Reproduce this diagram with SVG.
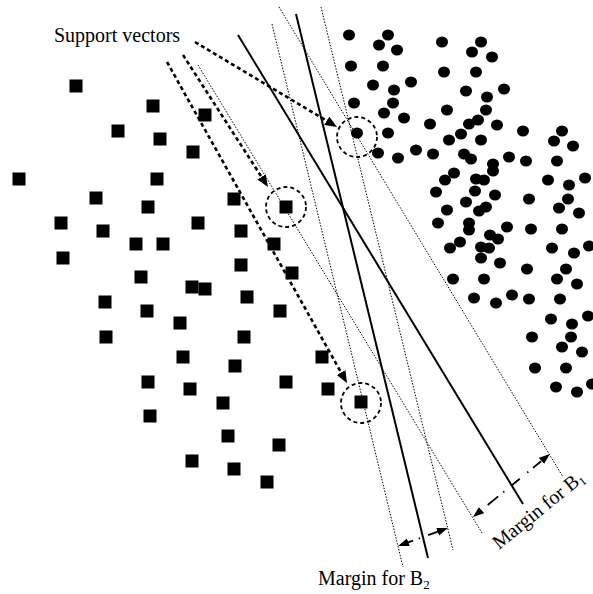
<svg xmlns="http://www.w3.org/2000/svg" xmlns:xlink="http://www.w3.org/1999/xlink" width="593" height="594" viewBox="0 0 593 594">
  <style>
    .sq { fill: #000; }
    .dt { fill: #000; }
    .plane { stroke: #000; stroke-width: 2; fill: none; }
    .margin { stroke: #000; stroke-width: 1; stroke-dasharray: 1.5 1.5; fill: none; }
    .sv-ring { stroke: #000; stroke-width: 1.8; stroke-dasharray: 4 3; fill: none; }
    .sv-arrow { stroke: #000; stroke-width: 2.6; stroke-dasharray: 4 3; fill: none; }
    .gap-arrow { stroke: #000; stroke-width: 1.8; fill: none; }
    .label { font-family: "Liberation Serif", "Times New Roman", serif; font-size: 20px; fill: #000; }
  </style>
  <defs>
    <rect id="sq" class="sq" x="-6.5" y="-6.5" width="13" height="13"/>
    <ellipse id="dt" class="dt" rx="6" ry="5.5"/>
    <marker id="head" markerUnits="userSpaceOnUse" markerWidth="13" markerHeight="11" refX="0" refY="5" orient="auto">
      <path d="M0,0 L12,5 L0,10 z" fill="#000"/>
    </marker>
    <marker id="tip" markerUnits="userSpaceOnUse" markerWidth="12" markerHeight="9" refX="11" refY="4" orient="auto-start-reverse">
      <path d="M0,0 L11,4 L0,8 z" fill="#000"/>
    </marker>
  </defs>

  <rect width="593" height="594" fill="#fff"/>

  <!-- class of squares -->
  <g id="squares">
    <use href="#sq" x="76" y="86"/>
    <use href="#sq" x="153" y="106"/>
    <use href="#sq" x="205" y="115"/>
    <use href="#sq" x="118" y="131"/>
    <use href="#sq" x="160" y="139"/>
    <use href="#sq" x="193" y="152"/>
    <use href="#sq" x="19" y="179"/>
    <use href="#sq" x="157" y="179"/>
    <use href="#sq" x="96" y="198"/>
    <use href="#sq" x="234" y="199"/>
    <use href="#sq" x="148" y="207"/>
    <use href="#sq" x="286" y="207"/>
    <use href="#sq" x="61" y="223"/>
    <use href="#sq" x="198" y="223"/>
    <use href="#sq" x="103" y="231"/>
    <use href="#sq" x="241" y="231"/>
    <use href="#sq" x="136" y="244"/>
    <use href="#sq" x="163" y="244"/>
    <use href="#sq" x="274" y="244"/>
    <use href="#sq" x="63" y="258"/>
    <use href="#sq" x="241" y="265"/>
    <use href="#sq" x="292" y="273"/>
    <use href="#sq" x="141" y="277"/>
    <use href="#sq" x="192" y="287"/>
    <use href="#sq" x="205" y="289"/>
    <use href="#sq" x="247" y="297"/>
    <use href="#sq" x="105" y="302"/>
    <use href="#sq" x="147" y="311"/>
    <use href="#sq" x="280" y="311"/>
    <use href="#sq" x="180" y="323"/>
    <use href="#sq" x="106" y="337"/>
    <use href="#sq" x="244" y="337"/>
    <use href="#sq" x="183" y="357"/>
    <use href="#sq" x="322" y="357"/>
    <use href="#sq" x="235" y="366"/>
    <use href="#sq" x="148" y="382"/>
    <use href="#sq" x="286" y="382"/>
    <use href="#sq" x="190" y="389"/>
    <use href="#sq" x="328" y="389"/>
    <use href="#sq" x="361" y="402"/>
    <use href="#sq" x="223" y="403"/>
    <use href="#sq" x="150" y="416"/>
    <use href="#sq" x="228" y="436"/>
    <use href="#sq" x="279" y="445"/>
    <use href="#sq" x="192" y="461"/>
    <use href="#sq" x="234" y="469"/>
    <use href="#sq" x="267" y="482"/>
  </g>

  <!-- class of dots -->
  <g id="dots">
    <use href="#dt" x="349" y="35"/>
    <use href="#dt" x="388" y="35"/>
    <use href="#dt" x="379" y="45"/>
    <use href="#dt" x="397" y="50"/>
    <use href="#dt" x="351" y="66"/>
    <use href="#dt" x="383" y="66"/>
    <use href="#dt" x="373" y="85"/>
    <use href="#dt" x="394" y="90"/>
    <use href="#dt" x="393" y="103"/>
    <use href="#dt" x="354" y="103"/>
    <use href="#dt" x="384" y="113"/>
    <use href="#dt" x="357" y="133"/>
    <use href="#dt" x="388" y="133"/>
    <use href="#dt" x="378" y="153"/>
    <use href="#dt" x="398" y="158"/>
    <use href="#dt" x="442" y="42"/>
    <use href="#dt" x="481" y="42"/>
    <use href="#dt" x="472" y="52"/>
    <use href="#dt" x="492" y="57"/>
    <use href="#dt" x="444" y="72"/>
    <use href="#dt" x="476" y="72"/>
    <use href="#dt" x="411" y="82"/>
    <use href="#dt" x="466" y="91"/>
    <use href="#dt" x="504" y="89"/>
    <use href="#dt" x="487" y="97"/>
    <use href="#dt" x="447" y="110"/>
    <use href="#dt" x="486" y="110"/>
    <use href="#dt" x="404" y="118"/>
    <use href="#dt" x="478" y="120"/>
    <use href="#dt" x="469" y="124"/>
    <use href="#dt" x="430" y="124"/>
    <use href="#dt" x="497" y="125"/>
    <use href="#dt" x="523" y="131"/>
    <use href="#dt" x="562" y="131"/>
    <use href="#dt" x="461" y="134"/>
    <use href="#dt" x="449" y="140"/>
    <use href="#dt" x="481" y="140"/>
    <use href="#dt" x="554" y="141"/>
    <use href="#dt" x="573" y="146"/>
    <use href="#dt" x="416" y="150"/>
    <use href="#dt" x="433" y="154"/>
    <use href="#dt" x="464" y="154"/>
    <use href="#dt" x="471" y="159"/>
    <use href="#dt" x="509" y="157"/>
    <use href="#dt" x="526" y="161"/>
    <use href="#dt" x="557" y="161"/>
    <use href="#dt" x="493" y="164"/>
    <use href="#dt" x="493" y="171"/>
    <use href="#dt" x="454" y="173"/>
    <use href="#dt" x="445" y="180"/>
    <use href="#dt" x="476" y="179"/>
    <use href="#dt" x="484" y="180"/>
    <use href="#dt" x="548" y="180"/>
    <use href="#dt" x="569" y="185"/>
    <use href="#dt" x="585" y="178"/>
    <use href="#dt" x="436" y="192"/>
    <use href="#dt" x="475" y="191"/>
    <use href="#dt" x="495" y="195"/>
    <use href="#dt" x="529" y="199"/>
    <use href="#dt" x="568" y="199"/>
    <use href="#dt" x="466" y="202"/>
    <use href="#dt" x="447" y="210"/>
    <use href="#dt" x="486" y="207"/>
    <use href="#dt" x="479" y="211"/>
    <use href="#dt" x="559" y="208"/>
    <use href="#dt" x="579" y="213"/>
    <use href="#dt" x="438" y="223"/>
    <use href="#dt" x="469" y="223"/>
    <use href="#dt" x="469" y="230"/>
    <use href="#dt" x="507" y="227"/>
    <use href="#dt" x="531" y="229"/>
    <use href="#dt" x="562" y="229"/>
    <use href="#dt" x="490" y="235"/>
    <use href="#dt" x="498" y="239"/>
    <use href="#dt" x="460" y="242"/>
    <use href="#dt" x="450" y="248"/>
    <use href="#dt" x="481" y="247"/>
    <use href="#dt" x="489" y="248"/>
    <use href="#dt" x="552" y="248"/>
    <use href="#dt" x="574" y="253"/>
    <use href="#dt" x="589" y="246"/>
    <use href="#dt" x="481" y="258"/>
    <use href="#dt" x="500" y="263"/>
    <use href="#dt" x="527" y="269"/>
    <use href="#dt" x="566" y="269"/>
    <use href="#dt" x="557" y="279"/>
    <use href="#dt" x="453" y="279"/>
    <use href="#dt" x="484" y="279"/>
    <use href="#dt" x="577" y="284"/>
    <use href="#dt" x="474" y="298"/>
    <use href="#dt" x="512" y="295"/>
    <use href="#dt" x="496" y="303"/>
    <use href="#dt" x="529" y="299"/>
    <use href="#dt" x="560" y="299"/>
    <use href="#dt" x="551" y="319"/>
    <use href="#dt" x="572" y="324"/>
    <use href="#dt" x="588" y="316"/>
    <use href="#dt" x="532" y="337"/>
    <use href="#dt" x="571" y="337"/>
    <use href="#dt" x="562" y="347"/>
    <use href="#dt" x="582" y="352"/>
    <use href="#dt" x="535" y="368"/>
    <use href="#dt" x="566" y="368"/>
    <use href="#dt" x="556" y="387"/>
    <use href="#dt" x="577" y="392"/>
    <use href="#dt" x="592" y="384"/>
  </g>

  <!-- decision boundaries B1, B2 and their margin lines -->
  <g id="connectors">
    <line id="B1" class="plane" x1="238" y1="35" x2="523" y2="504"/>
    <line id="B2" class="plane" x1="296" y1="14" x2="428" y2="558"/>
    <line id="B1-upper" class="margin" x1="279" y1="7" x2="563" y2="477"/>
    <line id="B1-lower" class="margin" x1="198" y1="65" x2="482" y2="533"/>
    <line id="B2-left" class="margin" x1="272" y1="24" x2="403" y2="567"/>
    <line id="B2-right" class="margin" x1="321" y1="7" x2="453" y2="550"/>

    <!-- pointers to the support vectors -->
    <line class="sv-arrow" x1="195" y1="42" x2="326.7" y2="120.8" marker-end="url(#head)"/>
    <line class="sv-arrow" x1="183" y1="55" x2="261.5" y2="176.9" marker-end="url(#head)"/>
    <line class="sv-arrow" x1="167" y1="62" x2="341.1" y2="372.5" marker-end="url(#head)"/>

    <!-- margin width indicators -->
    <line class="gap-arrow" x1="473" y1="517" x2="550" y2="454" stroke-dasharray="0 19 13.5 6.5 1.5 8.5 11.5 9.5 1.5 6 10.5 30" marker-start="url(#tip)" marker-end="url(#tip)"/>
    <line class="gap-arrow" x1="398" y1="546" x2="448" y2="528" stroke-dasharray="0 10 6 6 1.5 8.5 12 20" marker-start="url(#tip)" marker-end="url(#tip)"/>
  </g>

  <!-- rings around the support vectors -->
  <g id="support-vectors">
    <circle class="sv-ring" cx="357" cy="137" r="20"/>
    <circle class="sv-ring" cx="286" cy="207" r="20"/>
    <circle class="sv-ring" cx="361" cy="403" r="20"/>
  </g>

  <g id="labels">
    <text class="label" x="54" y="42">Support vectors</text>
    <text class="label" x="318" y="585">Margin for B<tspan font-size="13" dy="4">2</tspan></text>
    <text class="label" transform="translate(499,550) rotate(-39)">Margin for B<tspan font-size="12" dy="3">1</tspan></text>
  </g>
</svg>
